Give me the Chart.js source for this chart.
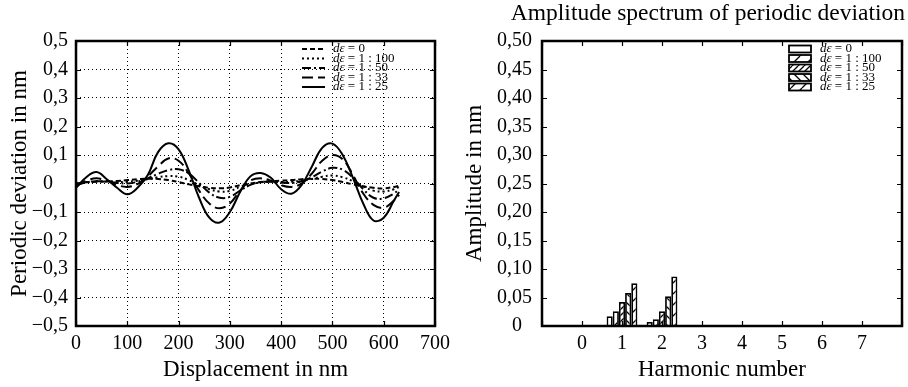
<!DOCTYPE html>
<html>
<head>
<meta charset="utf-8">
<script src="https://cdn.jsdelivr.net/npm/chart.js@4.4.0/dist/chart.umd.min.js"></script>
<style>
  html, body { margin: 0; background: #fff; }
  #wrap { position: relative; width: 908px; height: 387px; overflow: hidden; }
  .pane { position: absolute; top: 0; height: 387px; }
</style>
</head>
<body>
<div id="wrap">
  <div class="pane" style="left:0;width:456px"><canvas id="dev"></canvas></div>
  <div class="pane" style="left:450px;width:458px"><canvas id="spec"></canvas></div>
</div>
<script>
// values
const labels = ['dε = 0', 'dε = 1 : 100', 'dε = 1 : 50', 'dε = 1 : 33', 'dε = 1 : 25'];

// left panel: periodic deviation (nm) against displacement (nm)
const displacement = [0, 20, 40, 60, 80, 100, 120, 140, 160, 180, 200, 220, 240, 260, 280, 300,
  320, 340, 360, 380, 400, 420, 440, 460, 480, 500, 520, 540, 560, 580, 600, 620, 630];
const devZero = [0.0, 0.004, 0.006, 0.007, 0.009, 0.012, 0.015, 0.017, 0.016, 0.012, 0.005, -0.003,
  -0.01, -0.015, -0.017, -0.014, -0.006, 0.0, 0.005, 0.008, 0.01, 0.012, 0.015, 0.017, 0.016,
  0.012, 0.005, -0.003, -0.01, -0.015, -0.017, -0.012, -0.008];
const dev100 = [0.0, 0.005, 0.008, 0.007, 0.005, 0.006, 0.01, 0.015, 0.022, 0.026, 0.024, 0.012,
  -0.005, -0.02, -0.028, -0.026, -0.012, -0.002, 0.004, 0.006, 0.005, 0.006, 0.01, 0.016, 0.024,
  0.028, 0.022, 0.008, -0.01, -0.025, -0.028, -0.02, -0.012];
const dev50 = [-0.005, 0.004, 0.008, 0.006, 0.002, 0.0, 0.006, 0.018, 0.034, 0.047, 0.05, 0.035,
  0.002, -0.032, -0.05, -0.047, -0.025, -0.005, 0.005, 0.006, 0.003, 0.002, 0.008, 0.022, 0.042,
  0.055, 0.048, 0.02, -0.02, -0.05, -0.052, -0.035, -0.02];
const dev33 = [-0.01, 0.01, 0.018, 0.01, -0.005, -0.012, -0.002, 0.025, 0.06, 0.088, 0.08, 0.035,
  -0.025, -0.07, -0.087, -0.07, -0.025, 0.01, 0.018, 0.01, -0.006, -0.012, 0.0, 0.035, 0.08,
  0.1, 0.085, 0.03, -0.035, -0.075, -0.085, -0.06, -0.04];
const dev25 = [-0.015, 0.022, 0.04, 0.015, -0.015, -0.038, -0.015, 0.03, 0.11, 0.141, 0.12, 0.045,
  -0.05, -0.12, -0.137, -0.1, -0.03, 0.025, 0.037, 0.02, -0.02, -0.036, -0.005, 0.06, 0.125,
  0.14, 0.1, 0.02, -0.07, -0.13, -0.12, -0.06, -0.03];

// right panel: amplitude spectrum (nm) per harmonic
const harmonics = [0, 1, 2, 3, 4, 5, 6, 7];
const ampZero = [0, 0.017, 0.007, 0, 0, 0, 0, 0];
const amp100 = [0, 0.026, 0.012, 0, 0, 0, 0, 0];
const amp50 = [0, 0.042, 0.026, 0, 0, 0, 0, 0];
const amp33 = [0, 0.058, 0.052, 0, 0, 0, 0, 0];
const amp25 = [0, 0.075, 0.087, 0, 0, 0, 0, 0];

const SERIF = '"Liberation Serif", "Times New Roman", serif';
Chart.defaults.font.family = SERIF;
Chart.defaults.color = '#000';

const comma = (v, digits) => v.toFixed(digits).replace('.', ',').replace('-', '\u2212');

// diagonal hatch for the bar fills
function hatch(step, back) {
  const c = document.createElement('canvas');
  c.width = c.height = step;
  const g = c.getContext('2d');
  g.fillStyle = '#fff';
  g.fillRect(0, 0, step, step);
  if (back !== null) {
    g.strokeStyle = '#000';
    g.lineWidth = 1.3;
    g.beginPath();
    for (const o of [-step, 0, step]) {
      if (back) { g.moveTo(o, 0); g.lineTo(o + step, step); }
      else { g.moveTo(o, step); g.lineTo(o + step, 0); }
    }
    g.stroke();
  }
  return g.createPattern(c, 'repeat');
}

// box around the plot area plus short inward ticks on all four sides
const frame = {
  id: 'frame',
  afterDatasetsDraw(chart) {
    const { ctx, chartArea: a, scales: { x, y } } = chart;
    const t = 5;
    ctx.save();
    ctx.strokeStyle = '#000';
    ctx.lineWidth = 1.2;
    ctx.beginPath();
    x.ticks.forEach((_, i) => {
      const px = Math.round(x.getPixelForTick(i)) + 0.5;
      ctx.moveTo(px, a.bottom); ctx.lineTo(px, a.bottom - t);
      ctx.moveTo(px, a.top); ctx.lineTo(px, a.top + t);
    });
    y.ticks.forEach((_, i) => {
      const py = Math.round(y.getPixelForTick(i)) + 0.5;
      ctx.moveTo(a.left, py); ctx.lineTo(a.left + t, py);
      ctx.moveTo(a.right, py); ctx.lineTo(a.right - t, py);
    });
    ctx.stroke();
    ctx.lineWidth = 2.5;
    ctx.strokeRect(a.left, a.top, a.right - a.left, a.bottom - a.top);
    ctx.restore();
  },
};

// compact legend tucked into the top right corner, rows overlap like the original
const key = {
  id: 'key',
  afterDraw(chart, args, o) {
    const { ctx, chartArea: a } = chart;
    ctx.save();
    ctx.textBaseline = 'middle';
    chart.data.datasets.forEach((ds, i) => {
      const y = a.top + o.top + i * o.step;
      const x0 = a.right - o.right;
      ctx.strokeStyle = '#000';
      if (o.kind === 'line') {
        ctx.setLineDash(ds.borderDash || []);
        ctx.lineWidth = ds.borderWidth;
        ctx.beginPath();
        ctx.moveTo(x0, y); ctx.lineTo(x0 + o.sample, y);
        ctx.stroke();
        ctx.setLineDash([]);
      } else {
        ctx.fillStyle = ds.backgroundColor;
        ctx.lineWidth = 1.8;
        ctx.fillRect(x0, y - 3.5, o.sample, 7);
        ctx.strokeRect(x0, y - 3.5, o.sample, 7);
      }
      const [sym, ...rest] = ds.label.split(' ');
      let tx = x0 + o.sample + o.gap;
      ctx.fillStyle = '#000';
      ctx.font = 'italic 13px ' + SERIF;
      ctx.fillText(sym, tx, y);
      tx += ctx.measureText(sym).width;
      ctx.font = '13px ' + SERIF;
      ctx.fillText(' ' + rest.join(' '), tx, y);
    });
    ctx.restore();
  },
};

const devSeries = [devZero, dev100, dev50, dev33, dev25];
const devDash = [[5, 3], [2, 3], [9, 3, 2, 3], [11, 5], []];

new Chart(document.getElementById('dev'), {
  type: 'line',
  plugins: [frame, key],
  data: {
    datasets: devSeries.map((s, i) => ({
      label: labels[i],
      data: displacement.map((d, j) => ({ x: d, y: s[j] })),
      borderColor: '#000',
      borderWidth: 2,
      borderDash: devDash[i],
      pointRadius: 0,
      tension: 0.4,
    })),
  },
  options: {
    animation: false,
    responsive: true,
    maintainAspectRatio: false,
    layout: { padding: { top: 41, right: 13 } },
    plugins: {
      legend: { display: false },
      tooltip: { enabled: false },
      key: { kind: 'line', top: 8, step: 9.5, right: 133, sample: 23, gap: 8 },
    },
    scales: {
      x: {
        type: 'linear', min: 0, max: 700,
        ticks: { stepSize: 100, padding: 6, font: { size: 20 }, maxRotation: 0 },
        grid: { color: '#000', lineWidth: 1, drawTicks: false },
        border: { display: false, dash: [1, 3] },
        title: { display: true, text: 'Displacement in nm', font: { size: 23 }, padding: { top: 0, bottom: 3 } },
        afterFit: (s) => { s.height = 61; },
      },
      y: {
        min: -0.5, max: 0.5,
        ticks: {
          stepSize: 0.1, padding: 8, font: { size: 20 },
          callback: (v) => Math.abs(v) < 1e-9 ? '0\u2008\u2007' : comma(v, 1),
        },
        grid: { color: '#000', lineWidth: 1, drawTicks: false },
        border: { display: false, dash: [1, 3] },
        title: { display: true, text: 'Periodic deviation in nm', font: { size: 23 }, padding: { top: 6, bottom: 0 } },
        afterFit: (s) => { s.width = 76; },
      },
    },
  },
});

const ampSeries = [ampZero, amp100, amp50, amp33, amp25];
const fills = [hatch(8, null), hatch(14, false), hatch(6, false), hatch(9, true), hatch(11, false)];

new Chart(document.getElementById('spec'), {
  type: 'bar',
  plugins: [frame, key],
  data: {
    datasets: ampSeries.map((s, i) => ({
      label: labels[i],
      data: harmonics.map((h, j) => ({ x: h, y: s[j] })),
      backgroundColor: fills[i],
      borderColor: '#000',
      borderWidth: 1.8,
      barPercentage: 1,
      categoryPercentage: 0.77,
    })),
  },
  options: {
    animation: false,
    responsive: true,
    maintainAspectRatio: false,
    layout: { padding: { right: 3 } },
    plugins: {
      legend: { display: false },
      tooltip: { enabled: false },
      title: {
        display: true, align: 'end', color: '#000',
        text: 'Amplitude spectrum of periodic deviation',
        font: { size: 23.5, weight: 'normal' },
        padding: { top: 0, bottom: 12.8 },
      },
      key: { kind: 'bar', top: 8, step: 9.5, right: 113, sample: 22, gap: 9 },
    },
    scales: {
      x: {
        type: 'linear', min: -1, max: 8, offset: false,
        ticks: {
          stepSize: 1, padding: 6, font: { size: 20 }, maxRotation: 0,
          callback: (v) => (v < 0 || v > 7) ? '' : String(v),
        },
        grid: { display: false, drawTicks: false },
        border: { display: false },
        title: { display: true, text: 'Harmonic number', font: { size: 23 }, padding: { top: 0, bottom: 3 } },
        afterFit: (s) => { s.height = 61; },
      },
      y: {
        min: 0, max: 0.5,
        ticks: {
          stepSize: 0.05, padding: 10, font: { size: 20 },
          callback: (v) => Math.abs(v) < 1e-9 ? '0\u2007' : comma(v, 2),
        },
        grid: { display: false, drawTicks: false },
        border: { display: false },
        title: { display: true, text: 'Amplitude in nm', font: { size: 23 }, padding: { top: 11, bottom: 0 } },
        afterFit: (s) => { s.width = 92; },
      },
    },
  },
});
</script>
</body>
</html>
